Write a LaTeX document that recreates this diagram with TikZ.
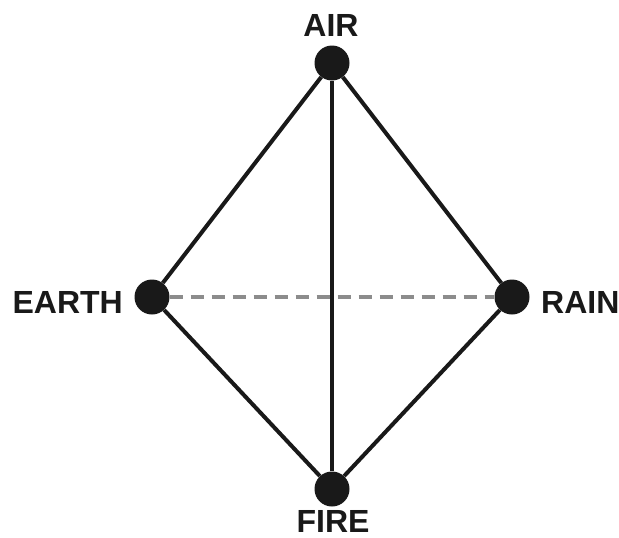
\documentclass[tikz,border=0pt]{standalone}
\usepackage{fontspec}
\setmainfont{Liberation Sans}
\begin{document}
\begin{tikzpicture}[x=1pt,y=-1pt,
  vertex/.style={circle,fill=black!90,minimum size=35pt,inner sep=0pt},
  edge/.style={line width=4pt,draw=black!90},
  hidden/.style={line width=4pt,draw=black!45,dash pattern=on 13pt off 8pt},
  lbl/.style={inner sep=0pt,font=\fontsize{32}{32}\selectfont\bfseries,text=black!90}]
\useasboundingbox (0,0) rectangle (619,538);
\node[vertex] (air) at (332,63) {};
\node[vertex] (earth) at (152,297) {};
\node[vertex] (rain) at (512,297) {};
\node[vertex] (fire) at (332,489) {};
\draw[edge] (air) -- (earth);
\draw[edge] (air) -- (rain);
\draw[edge] (air) -- (fire);
\draw[edge] (earth) -- (fire);
\draw[edge] (rain) -- (fire);
\draw[hidden] (earth) -- (rain);
\node[lbl,anchor=base] (tair) at (331,36) {AIR};
\node[lbl,anchor=base east] (tearth) at (123,313) {EARTH};
\node[lbl,anchor=base west] (train) at (541,313) {RAIN};
\node[lbl,anchor=base] (tfire) at (333,532) {FIRE};
\end{tikzpicture}
\end{document}
